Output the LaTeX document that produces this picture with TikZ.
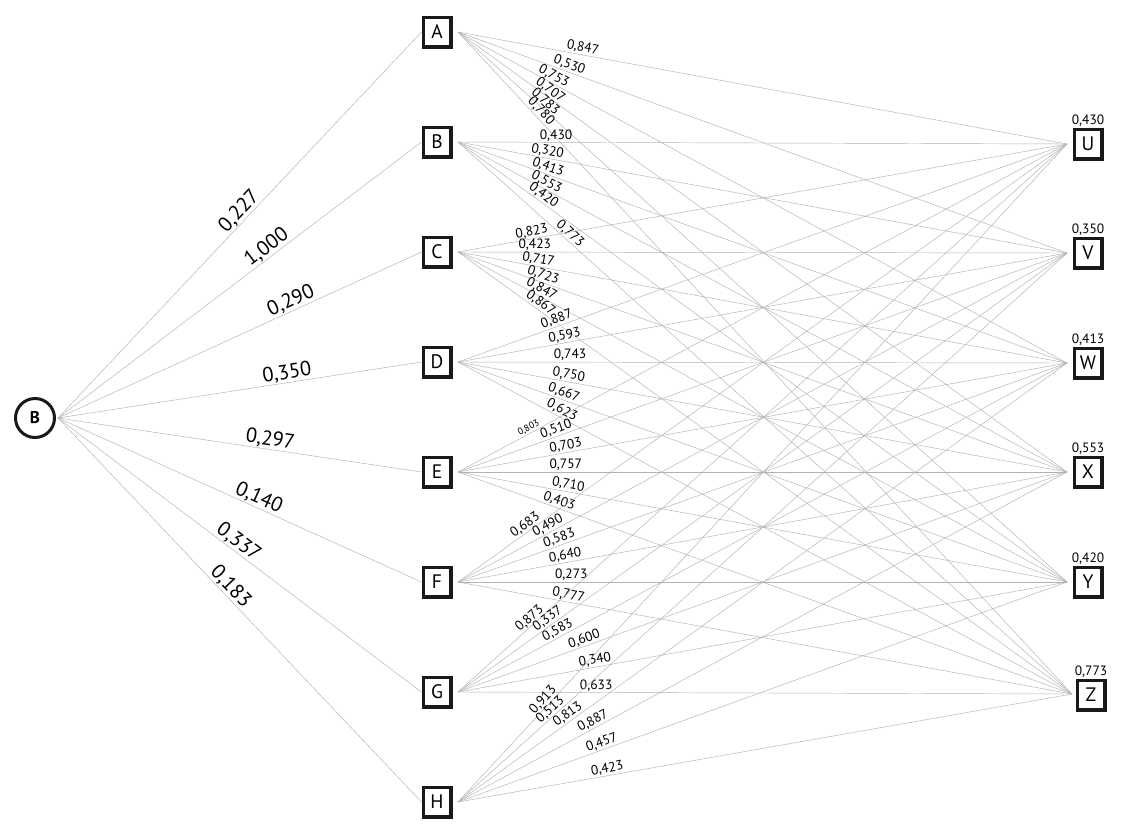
\documentclass[tikz,border=0pt]{standalone}
\usepackage{fontspec}
\setmainfont{PT Sans}
\tikzset{
  conn/.style={draw=gray!60, line width=0.45pt},
  wlab/.style={font=\fontsize{13.5}{13.5}\selectfont, sloped, above, inner sep=1pt, text=black},
  slab/.style={font=\fontsize{9.5}{9.5}\selectfont, sloped, above, inner sep=1pt, text=black},
  rlab/.style={font=\fontsize{20.5}{20.5}\selectfont, sloped, above, inner sep=0.6pt, text=black},
  vbox/.style={draw=black!90, line width=3.5pt, minimum width=27.5pt, minimum height=29.5pt, inner sep=0pt, font=\fontsize{19.5}{19.5}\selectfont, fill=white},
  rootnode/.style={circle, draw=black!90, line width=3pt, minimum size=39pt, inner sep=0pt, font=\bfseries\fontsize{17}{17}\selectfont},
  toplab/.style={font=\fontsize{13.5}{13.5}\selectfont, inner sep=0.3pt, text=black}
}
\begin{document}
\begin{tikzpicture}[x=1pt,y=-1pt]
\fill[white] (0,0) rectangle (1130,838);
% root
\node[rootnode] (R) at (35,418) {B};
\coordinate (Ro) at (58,418);
% middle nodes
\node[vbox] (A) at (437,32) {A};
\node[vbox] (B) at (437,142) {B};
\node[vbox] (C) at (437,252) {C};
\node[vbox] (D) at (437,362) {D};
\node[vbox] (E) at (437,472) {E};
\node[vbox] (F) at (437,582) {F};
\node[vbox] (G) at (437,692) {G};
\node[vbox] (H) at (437,802) {H};
\coordinate (Ao) at (458,32);
\coordinate (Bo) at (458,142);
\coordinate (Co) at (458,252);
\coordinate (Do) at (458,362);
\coordinate (Eo) at (458,472);
\coordinate (Fo) at (458,582);
\coordinate (Go) at (458,692);
\coordinate (Ho) at (458,802);
% right nodes
\node[vbox, label={[toplab]above:{0,430}}] (U) at (1088,144) {U};
\node[vbox, label={[toplab]above:{0,350}}] (V) at (1088,253) {V};
\node[vbox, label={[toplab]above:{0,413}}] (W) at (1088,363) {W};
\node[vbox, label={[toplab]above:{0,553}}] (X) at (1088,472) {X};
\node[vbox, label={[toplab]above:{0,420}}] (Y) at (1088,582) {Y};
\node[vbox, label={[toplab]above:{0,773}}] (Z) at (1091,695) {Z};
\coordinate (Ui) at (1067,144);
\coordinate (Vi) at (1067,253);
\coordinate (Wi) at (1067,363);
\coordinate (Xi) at (1067,472);
\coordinate (Yi) at (1067,582);
\coordinate (Zi) at (1072,694);
% root edges
\draw[conn] (Ro) -- node[rlab, pos=0.518] {0,227} (A.west);
\draw[conn] (Ro) -- node[rlab, pos=0.59] {1,000} (B.west);
\draw[conn] (Ro) -- node[rlab, pos=0.652] {0,290} (C.west);
\draw[conn] (Ro) -- node[rlab, pos=0.634] {0,350} (D.west);
\draw[conn] (Ro) -- node[rlab, pos=0.58] {0,297} (E.west);
\draw[conn] (Ro) -- node[rlab, pos=0.542] {0,140} (F.west);
\draw[conn] (Ro) -- node[rlab, pos=0.481] {0,337} (G.west);
\draw[conn] (Ro) -- node[rlab, pos=0.456] {0,183} (H.west);
% A
\draw[conn] (Ao) -- node[wlab, pos=0.203] {0,847} (Ui);
\draw[conn] (Ao) -- node[wlab, pos=0.179] {0,530} (Vi);
\draw[conn] (Ao) -- node[wlab, pos=0.152] {0,753} (Wi);
\draw[conn] (Ao) -- node[wlab, pos=0.145] {0,707} (Xi);
\draw[conn] (Ao) -- node[wlab, pos=0.136] {0,783} (Yi);
\draw[conn] (Ao) -- node[wlab, pos=0.127] {0,780} (Zi);
% B
\draw[conn] (Bo) -- node[wlab, pos=0.161] {0,430} (Ui);
\draw[conn] (Bo) -- node[wlab, pos=0.145] {0,320} (Vi);
\draw[conn] (Bo) -- node[wlab, pos=0.144] {0,413} (Wi);
\draw[conn] (Bo) -- node[wlab, pos=0.140] {0,553} (Xi);
\draw[conn] (Bo) -- node[wlab, pos=0.134] {0,420} (Yi);
\draw[conn] (Bo) -- node[wlab, pos=0.175] {0,773} (Zi);
% C
\draw[conn] (Co) -- node[wlab, pos=0.123] {0,823} (Ui);
\draw[conn] (Co) -- node[wlab, pos=0.126] {0,423} (Vi);
\draw[conn] (Co) -- node[wlab, pos=0.130] {0,717} (Wi);
\draw[conn] (Co) -- node[wlab, pos=0.136] {0,723} (Xi);
\draw[conn] (Co) -- node[wlab, pos=0.132] {0,847} (Yi);
\draw[conn] (Co) -- node[wlab, pos=0.128] {0,867} (Zi);
% D
\draw[conn] (Do) -- node[wlab, pos=0.166] {0,887} (Ui);
\draw[conn] (Do) -- node[wlab, pos=0.177] {0,593} (Vi);
\draw[conn] (Do) -- node[wlab, pos=0.184] {0,743} (Wi);
\draw[conn] (Do) -- node[wlab, pos=0.180] {0,750} (Xi);
\draw[conn] (Do) -- node[wlab, pos=0.170] {0,667} (Yi);
\draw[conn] (Do) -- node[wlab, pos=0.164] {0,623} (Zi);
% E
\draw[conn] (Eo) -- node[slab, pos=0.120] {0,803} (Ui);
\draw[conn] (Eo) -- node[wlab, pos=0.165] {0,510} (Vi);
\draw[conn] (Eo) -- node[wlab, pos=0.179] {0,703} (Wi);
\draw[conn] (Eo) -- node[wlab, pos=0.177] {0,757} (Xi);
\draw[conn] (Eo) -- node[wlab, pos=0.179] {0,710} (Yi);
\draw[conn] (Eo) -- node[wlab, pos=0.161] {0,403} (Zi);
% F
\draw[conn] (Fo) -- node[wlab, pos=0.117] {0,683} (Ui);
\draw[conn] (Fo) -- node[wlab, pos=0.153] {0,490} (Vi);
\draw[conn] (Fo) -- node[wlab, pos=0.170] {0,583} (Wi);
\draw[conn] (Fo) -- node[wlab, pos=0.178] {0,640} (Xi);
\draw[conn] (Fo) -- node[wlab, pos=0.186] {0,273} (Yi);
\draw[conn] (Fo) -- node[wlab, pos=0.178] {0,777} (Zi);
% G
\draw[conn] (Go) -- node[wlab, pos=0.125] {0,873} (Ui);
\draw[conn] (Go) -- node[wlab, pos=0.154] {0,337} (Vi);
\draw[conn] (Go) -- node[wlab, pos=0.169] {0,583} (Wi);
\draw[conn] (Go) -- node[wlab, pos=0.211] {0,600} (Xi);
\draw[conn] (Go) -- node[wlab, pos=0.227] {0,340} (Yi);
\draw[conn] (Go) -- node[wlab, pos=0.225] {0,633} (Zi);
% H
\draw[conn] (Ho) -- node[wlab, pos=0.148] {0,913} (Ui);
\draw[conn] (Ho) -- node[wlab, pos=0.159] {0,513} (Vi);
\draw[conn] (Ho) -- node[wlab, pos=0.187] {0,813} (Wi);
\draw[conn] (Ho) -- node[wlab, pos=0.227] {0,887} (Xi);
\draw[conn] (Ho) -- node[wlab, pos=0.240] {0,457} (Yi);
\draw[conn] (Ho) -- node[wlab, pos=0.245] {0,423} (Zi);
\end{tikzpicture}
\end{document}
